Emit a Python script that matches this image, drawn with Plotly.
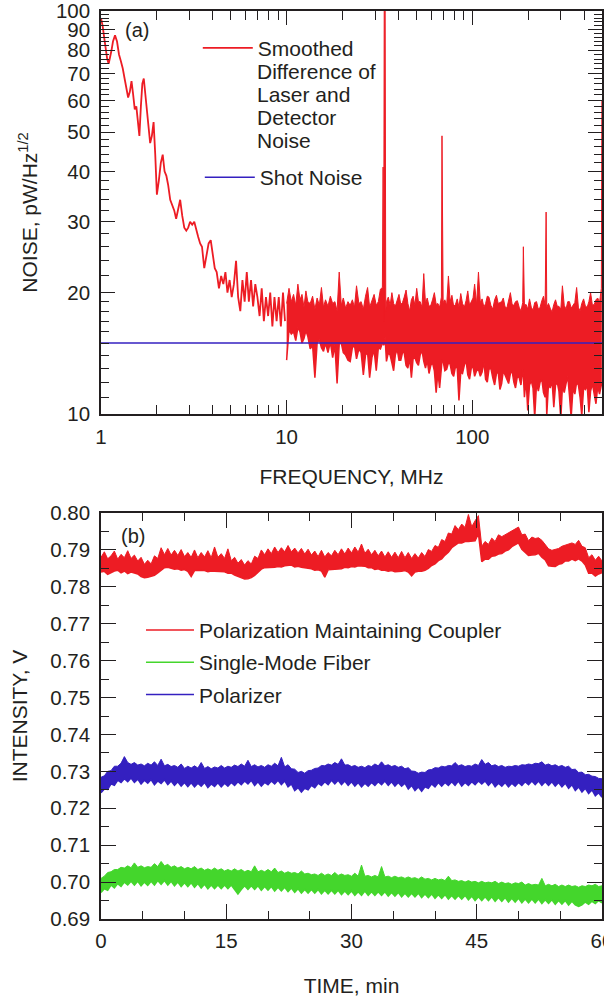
import math
import plotly.graph_objects as go

# -----------------------------
# (a) noise spectrum
# -----------------------------
# 1-10 MHz: a single line
FREQ_LOW = [1.00, 1.02, 1.04, 1.06, 1.08, 1.10, 1.12, 1.14, 1.16, 1.19,
            1.22, 1.25, 1.28, 1.31, 1.34, 1.37, 1.40, 1.43, 1.46, 1.49,
            1.52, 1.55, 1.58, 1.61, 1.64, 1.67, 1.70, 1.73, 1.76, 1.80,
            1.84, 1.88, 1.92, 1.96, 2.00, 2.05, 2.10, 2.15, 2.20, 2.25,
            2.30, 2.36, 2.42, 2.48, 2.54, 2.60, 2.67, 2.74, 2.81, 2.88,
            2.95, 3.02, 3.10, 3.18, 3.26, 3.34, 3.42, 3.50, 3.60, 3.70,
            3.80, 3.90, 4.00, 4.10, 4.20, 4.32, 4.44, 4.56, 4.68, 4.80,
            4.93, 5.06, 5.20, 5.34, 5.48, 5.63, 5.78, 5.94, 6.10, 6.26,
            6.43, 6.60, 6.78, 6.96, 7.15, 7.34, 7.54, 7.74, 7.95, 8.16,
            8.38, 8.60, 8.83, 9.07, 9.31, 9.56, 9.80]
NOISE_LOW = [96, 92, 86, 80, 76, 74, 78, 80, 84, 87,
             84, 78, 75, 72, 68, 64, 61, 63, 67, 62,
             57, 58, 52, 49, 58, 66, 68, 63, 58, 52,
             47, 49, 53, 44, 35, 38, 42, 44, 40, 39,
             37, 34, 33, 32, 30.5, 32, 34, 31, 29, 28.5,
             29, 30, 29.5, 30, 28.5, 27.5, 26.5, 26, 23, 25,
             26.5, 27, 25, 23, 22.5, 20.5, 22, 21, 22.5, 20,
             21.5, 19.5, 21, 24, 19.5, 18, 21.5, 19, 22.5, 19,
             21.5, 18.5, 21, 19.5, 17.5, 20.5, 17, 19.5, 17.5, 20,
             16.5, 19.5, 17, 19.5, 16.5, 20, 17]

# 10-500 MHz: dense noise band, upper and lower envelope
FREQ_BAND = [10.0, 10.3, 10.6, 10.9, 11.2, 11.5, 11.8, 12.1, 12.4, 12.7,
             13.0, 13.4, 13.8, 14.2, 14.6, 15.0, 15.4, 15.8, 16.2, 16.7,
             17.2, 17.7, 18.2, 18.7, 19.2, 19.7, 20.2, 20.8, 21.4, 22.0,
             22.6, 23.2, 23.8, 24.5, 25.2, 25.9, 26.6, 27.3, 28.0, 28.8,
             29.6, 30.4, 31.2, 32.0, 32.8,
             33.1, 33.3, 33.6, 33.9, 34.2,
             34.5, 35.3, 36.1, 36.9, 37.7, 38.5, 39.4, 40.3, 41.2, 42.1,
             43.0, 44.0, 45.0, 46.0, 47.0, 48.0, 49.1, 50.2, 51.3, 52.4,
             53.6, 54.8, 56.0, 57.2, 58.5, 59.8, 61.1, 62.5, 63.9, 65.3,
             66.7, 68.2, 68.7, 69.7, 71.2, 72.8, 74.4, 76.0, 77.7, 79.4,
             81.2, 83.0, 84.8, 86.7, 88.6, 90.6, 92.6, 94.6, 96.7, 98.8,
             101, 103, 105.5, 108, 110.5, 113, 115.5, 118, 120.5, 123,
             126, 129, 132, 135, 138, 141, 144, 147, 150, 153.5,
             157, 160.5, 164, 167.5, 171, 175, 179, 183, 187, 188.5,
             191, 195, 199, 203.5, 208, 212.5, 217, 222, 227, 232,
             237, 242, 247, 250, 252, 257.5, 263, 269, 275, 281,
             287, 293, 300, 306, 313, 320, 327, 334, 341, 349,
             357, 365, 373, 381, 389, 398, 407, 416, 425, 434,
             444, 454, 464, 474, 485, 496, 499]
NOISE_BAND_HI = [18.8, 20.5, 19.0, 19.8, 18.6, 21.0, 19.2, 19.8, 18.4, 20.2,
                 19.0, 18.8, 19.6, 18.2, 19.4, 18.6, 20.6, 18.4, 19.2, 18.5,
                 19.6, 18.8, 19.0, 18.0, 22.5, 18.6, 19.4, 18.3, 19.0, 18.6,
                 19.2, 18.4, 20.8, 18.8, 19.0, 18.2, 19.6, 20.6, 18.4, 19.0,
                 19.8, 18.6, 19.0, 20.4, 20.6,
                 41.0, 17.0, 140, 140, 18.0,
                 19.0, 19.5, 18.6, 20.0, 18.8, 18.5, 19.3, 19.8, 18.7, 18.9,
                 19.5, 20.3, 18.8, 18.0, 19.2, 19.6, 18.6, 20.5, 19.0, 19.0,
                 18.4, 22.3, 18.8, 19.4, 18.5, 18.6, 19.2, 20.0, 18.7, 18.8,
                 18.4, 19.5, 49.0, 18.9, 19.2, 18.6, 22.0, 19.0, 19.7, 18.5,
                 18.7, 19.3, 18.4, 19.9, 18.8, 18.4, 19.1, 20.2, 18.6, 19.0,
                 19.4, 21.0, 18.7, 22.5, 18.9, 19.3, 18.4, 18.8, 19.6, 19.5,
                 18.6, 18.2, 19.2, 19.7, 18.8, 18.9, 19.0, 19.4, 18.5, 18.3,
                 19.3, 20.0, 18.7, 18.6, 19.0, 19.1, 18.4, 18.0, 18.9, 26.0,
                 18.6, 18.7, 18.2, 19.3, 18.4, 18.1, 18.9, 19.0, 18.2, 18.4,
                 19.1, 19.6, 18.6, 31.7, 18.4, 18.8, 18.3, 17.9, 18.7, 19.2,
                 18.5, 18.5, 18.2, 20.8, 18.6, 18.2, 19.0, 19.0, 18.3, 18.6,
                 18.9, 20.6, 18.4, 18.0, 18.8, 19.3, 18.5, 18.4, 19.0, 20.0,
                 18.6, 18.7, 19.2, 19.4, 18.9, 20.5, 60.0]
NOISE_BAND_LO = [13.6, 16.2, 15.8, 16.0, 15.2, 16.4, 16.0, 15.0, 15.4, 16.1,
                 15.6, 14.5, 14.8, 12.3, 15.0, 15.3, 14.6, 14.3, 15.0, 14.2,
                 15.1, 13.8, 14.8, 11.9, 14.9, 15.0, 14.2, 14.0, 13.6, 13.5,
                 14.6, 14.8, 13.7, 14.5, 14.2, 12.5, 14.0, 14.2, 12.3, 13.8,
                 14.4, 12.8, 14.6, 14.5, 15.0,
                 15.2, 14.8, 15.0, 15.5, 13.8,
                 13.5, 14.2, 14.0, 13.4, 12.8, 14.0, 14.5, 13.6, 13.6, 14.2,
                 14.2, 13.2, 13.0, 13.8, 12.3, 13.7, 13.8, 13.4, 13.2, 14.0,
                 14.4, 13.5, 13.0, 13.6, 12.6, 13.2, 13.4, 12.8, 11.3, 12.7,
                 11.6, 13.0, 13.6, 13.5, 12.8, 12.9, 13.4, 13.3, 12.6, 12.4,
                 13.1, 13.0, 10.8, 12.7, 12.6, 13.2, 13.6, 12.5, 12.2, 13.0,
                 13.1, 12.4, 12.8, 12.9, 12.4, 12.7, 13.5, 12.2, 12.0, 12.9,
                 13.0, 12.3, 11.8, 12.6, 12.7, 11.5, 11.9, 12.8, 12.5, 12.1,
                 11.9, 12.6, 12.8, 12.0, 11.6, 12.4, 12.3, 11.8, 12.9, 12.5,
                 11.0, 12.2, 10.2, 11.8, 12.1, 11.6, 9.8, 11.9, 11.4, 12.0,
                 12.2, 11.3, 11.0, 11.8, 9.9, 11.9, 11.6, 12.1, 10.4, 11.8,
                 12.0, 11.4, 9.7, 11.7, 11.3, 11.9, 12.4, 11.1, 9.8, 11.6,
                 11.2, 12.0, 11.8, 11.0, 9.9, 11.6, 11.5, 11.8, 10.1, 11.4,
                 11.9, 11.2, 10.6, 11.7, 11.2, 11.8, 12.0]

SHOT_FREQ = [1, 500]
SHOT_LEVEL = [15, 15]

# -----------------------------
# (b) intensity vs time, upper / lower edge of each noisy trace
# -----------------------------
TIME_MIN = [0.0, 0.4, 0.8, 1.2, 1.6, 2.0, 2.4, 2.8, 3.2, 3.6,
            4.0, 4.4, 4.8, 5.2, 5.6, 6.0, 6.4, 6.8, 7.2, 7.6,
            8.0, 8.4, 8.8, 9.2, 9.6, 10.0, 10.4, 10.8, 11.2, 11.6,
            12.0, 12.4, 12.8, 13.2, 13.6, 14.0, 14.4, 14.8, 15.2, 15.6,
            16.0, 16.4, 16.8, 17.2, 17.6, 18.0, 18.4, 18.8, 19.2, 19.6,
            20.0, 20.4, 20.8, 21.2, 21.6, 22.0, 22.4, 22.8, 23.2, 23.6,
            24.0, 24.4, 24.8, 25.2, 25.6, 26.0, 26.4, 26.8, 27.2, 27.6,
            28.0, 28.4, 28.8, 29.2, 29.6, 30.0, 30.4, 30.8, 31.2, 31.6,
            32.0, 32.4, 32.8, 33.2, 33.6, 34.0, 34.4, 34.8, 35.2, 35.6,
            36.0, 36.4, 36.8, 37.2, 37.6, 38.0, 38.4, 38.8, 39.2, 39.6,
            40.0, 40.4, 40.8, 41.2, 41.6, 42.0, 42.4, 42.8, 43.2, 43.6,
            44.0, 44.4, 44.8, 45.2, 45.6, 46.0, 46.4, 46.8, 47.2, 47.6,
            48.0, 48.4, 48.8, 49.2, 49.6, 50.0, 50.4, 50.8, 51.2, 51.6,
            52.0, 52.4, 52.8, 53.2, 53.6, 54.0, 54.4, 54.8, 55.2, 55.6,
            56.0, 56.4, 56.8, 57.2, 57.6, 58.0, 58.4, 58.8, 59.2, 59.6,
            60.0]

PMC_HI = [.7880, .7895, .7876, .7884, .7897, .7875, .7888, .7879, .7898, .7877,
          .7886, .7870, .7880, .7861, .7872, .7862, .7884, .7877, .7906, .7887,
          .7904, .7886, .7899, .7885, .7901, .7882, .7893, .7880, .7900, .7879,
          .7893, .7881, .7898, .7879, .7908, .7880, .7890, .7877, .7903, .7871,
          .7880, .7864, .7874, .7859, .7871, .7862, .7883, .7877, .7900, .7887,
          .7903, .7890, .7908, .7893, .7906, .7895, .7912, .7895, .7905, .7892,
          .7904, .7889, .7902, .7886, .7897, .7882, .7899, .7881, .7893, .7884,
          .7899, .7887, .7903, .7889, .7905, .7892, .7908, .7894, .7916, .7891,
          .7902, .7887, .7899, .7884, .7897, .7881, .7895, .7880, .7894, .7879,
          .7896, .7879, .7893, .7877, .7890, .7878, .7893, .7882, .7901, .7896,
          .7912, .7907, .7928, .7923, .7946, .7943, .7966, .7955, .7970, .7961,
          .7996, .7963, .7979, .7993, .7910, .7923, .7915, .7932, .7923, .7941,
          .7936, .7941, .7947, .7951, .7958, .7962, .7941, .7943, .7925, .7935,
          .7931, .7933, .7926, .7916, .7903, .7899, .7901, .7904, .7910, .7913,
          .7917, .7919, .7915, .7926, .7910, .7906, .7879, .7887, .7872, .7883,
          .7870]
PMC_LO = [.7840, .7842, .7834, .7839, .7843, .7845, .7838, .7843, .7836, .7840,
          .7838, .7835, .7828, .7825, .7826, .7828, .7831, .7838, .7846, .7852,
          .7853, .7851, .7848, .7849, .7845, .7847, .7842, .7828, .7844, .7845,
          .7845, .7844, .7841, .7843, .7842, .7842, .7840, .7841, .7837, .7837,
          .7832, .7829, .7825, .7821, .7822, .7825, .7831, .7839, .7848, .7852,
          .7852, .7853, .7853, .7855, .7854, .7857, .7857, .7859, .7854, .7856,
          .7853, .7852, .7849, .7849, .7845, .7846, .7843, .7826, .7846, .7847,
          .7849, .7850, .7849, .7853, .7852, .7855, .7854, .7857, .7856, .7856,
          .7852, .7852, .7847, .7849, .7845, .7845, .7842, .7844, .7841, .7841,
          .7842, .7844, .7840, .7830, .7840, .7842, .7842, .7845, .7850, .7858,
          .7862, .7871, .7876, .7886, .7894, .7906, .7912, .7919, .7919, .7923,
          .7923, .7924, .7925, .7944, .7868, .7875, .7875, .7883, .7884, .7889,
          .7890, .7897, .7900, .7909, .7915, .7919, .7902, .7894, .7885, .7886,
          .7887, .7891, .7880, .7873, .7857, .7856, .7855, .7861, .7863, .7870,
          .7870, .7875, .7871, .7876, .7870, .7859, .7837, .7837, .7829, .7835,
          .7838]

SMF_HI = [.7010, .7016, .7026, .7028, .7034, .7034, .7040, .7038, .7044, .7039,
          .7052, .7040, .7044, .7039, .7042, .7040, .7050, .7042, .7056, .7044,
          .7048, .7040, .7044, .7038, .7042, .7036, .7040, .7036, .7042, .7034,
          .7038, .7032, .7036, .7032, .7038, .7032, .7036, .7030, .7034, .7030,
          .7036, .7030, .7034, .7028, .7032, .7028, .7044, .7028, .7032, .7028,
          .7034, .7028, .7038, .7026, .7030, .7024, .7028, .7024, .7026, .7022,
          .7030, .7022, .7024, .7020, .7022, .7018, .7024, .7018, .7022, .7018,
          .7026, .7018, .7022, .7018, .7020, .7016, .7024, .7016, .7046, .7016,
          .7018, .7014, .7018, .7014, .7042, .7014, .7016, .7012, .7016, .7012,
          .7014, .7010, .7014, .7010, .7012, .7008, .7014, .7008, .7010, .7006,
          .7010, .7006, .7008, .7004, .7016, .7004, .7006, .7002, .7004, .7000,
          .7004, .7000, .7002, .6998, .7002, .6998, .7000, .6998, .7002, .6996,
          .7000, .6996, .6998, .6994, .6998, .6996, .7000, .6992, .6996, .6992,
          .6994, .6992, .7010, .6990, .6994, .6990, .6994, .6988, .6992, .6988,
          .6992, .6988, .6990, .6986, .6990, .6988, .6992, .6990, .6994, .6988,
          .6990]
SMF_LO = [.6972, .6982, .6978, .6992, .6984, .6996, .6988, .7000, .6992, .7002,
          .6992, .7002, .6990, .7000, .6991, .7002, .6992, .7004, .6994, .7004,
          .6992, .7002, .6990, .7000, .6988, .6998, .6988, .6998, .6986, .6996,
          .6984, .6994, .6982, .6992, .6982, .6992, .6982, .6992, .6982, .6992,
          .6980, .6968, .6980, .6990, .6980, .6990, .6980, .6990, .6978, .6988,
          .6978, .6988, .6976, .6986, .6976, .6986, .6974, .6984, .6972, .6982,
          .6970, .6980, .6970, .6980, .6970, .6980, .6968, .6978, .6968, .6978,
          .6968, .6978, .6966, .6976, .6966, .6976, .6964, .6974, .6964, .6976,
          .6964, .6974, .6964, .6974, .6964, .6974, .6962, .6972, .6962, .6972,
          .6960, .6970, .6960, .6970, .6960, .6970, .6958, .6968, .6958, .6968,
          .6956, .6966, .6956, .6966, .6954, .6964, .6954, .6964, .6954, .6964,
          .6952, .6962, .6950, .6960, .6950, .6960, .6950, .6960, .6948, .6958,
          .6948, .6958, .6946, .6956, .6946, .6956, .6944, .6954, .6944, .6954,
          .6944, .6954, .6942, .6952, .6942, .6952, .6940, .6950, .6940, .6950,
          .6938, .6948, .6938, .6934, .6938, .6946, .6940, .6948, .6942, .6950,
          .6944]

POL_HI = [.7284, .7288, .7300, .7302, .7314, .7314, .7322, .7340, .7324, .7319,
          .7324, .7317, .7320, .7315, .7322, .7317, .7326, .7316, .7333, .7315,
          .7319, .7313, .7316, .7311, .7320, .7308, .7314, .7309, .7315, .7309,
          .7324, .7308, .7313, .7307, .7312, .7309, .7316, .7309, .7314, .7311,
          .7317, .7313, .7320, .7314, .7330, .7313, .7318, .7312, .7316, .7311,
          .7318, .7314, .7322, .7315, .7338, .7312, .7318, .7307, .7306, .7297,
          .7300, .7295, .7302, .7303, .7308, .7309, .7316, .7315, .7320, .7317,
          .7324, .7319, .7334, .7317, .7318, .7313, .7316, .7311, .7314, .7310,
          .7316, .7313, .7320, .7315, .7326, .7315, .7318, .7313, .7316, .7311,
          .7314, .7307, .7310, .7301, .7300, .7295, .7298, .7297, .7304, .7305,
          .7310, .7309, .7314, .7312, .7316, .7315, .7324, .7315, .7318, .7313,
          .7316, .7314, .7320, .7316, .7332, .7319, .7324, .7315, .7318, .7313,
          .7316, .7311, .7314, .7313, .7316, .7314, .7318, .7317, .7320, .7318,
          .7322, .7321, .7326, .7317, .7320, .7315, .7318, .7313, .7316, .7311,
          .7314, .7305, .7306, .7297, .7298, .7291, .7292, .7287, .7286, .7281,
          .7280]
POL_LO = [.7242, .7252, .7251, .7266, .7262, .7276, .7270, .7280, .7272, .7282,
          .7270, .7279, .7266, .7276, .7268, .7278, .7264, .7274, .7267, .7277,
          .7264, .7274, .7262, .7272, .7260, .7270, .7259, .7269, .7258, .7268,
          .7260, .7270, .7256, .7266, .7259, .7269, .7258, .7268, .7260, .7270,
          .7262, .7272, .7264, .7274, .7266, .7276, .7262, .7272, .7260, .7270,
          .7264, .7274, .7266, .7276, .7264, .7274, .7258, .7266, .7248, .7256,
          .7244, .7254, .7250, .7262, .7256, .7268, .7262, .7272, .7264, .7276,
          .7266, .7276, .7264, .7274, .7262, .7272, .7260, .7270, .7258, .7268,
          .7260, .7270, .7262, .7272, .7264, .7274, .7262, .7272, .7260, .7270,
          .7260, .7268, .7252, .7262, .7248, .7258, .7246, .7258, .7254, .7266,
          .7258, .7270, .7260, .7270, .7262, .7272, .7262, .7274, .7260, .7270,
          .7262, .7272, .7264, .7274, .7266, .7274, .7262, .7272, .7258, .7268,
          .7260, .7270, .7258, .7268, .7260, .7270, .7262, .7272, .7264, .7274,
          .7264, .7274, .7262, .7272, .7262, .7272, .7260, .7270, .7258, .7268,
          .7254, .7264, .7248, .7258, .7244, .7254, .7240, .7250, .7234, .7242,
          .7230]

# tick labels
FREQ_TICKS = [1, 10, 100]
FREQ_MINOR = [2, 3, 4, 5, 6, 7, 8, 9, 20, 30, 40, 50, 60, 70, 80, 90, 200, 300, 400]
NOISE_TICKS = [10, 20, 30, 40, 50, 60, 70, 80, 90, 100]
NOISE_MINOR = [11, 12, 13, 14, 15, 16, 17, 18, 19, 22, 24, 26, 28, 32, 34, 36, 38,
               42, 44, 46, 48, 52, 54, 56, 58, 62, 64, 66, 68, 72, 74, 76, 78,
               82, 84, 86, 88, 92, 94, 96, 98]
TIME_TICKS = [0, 15, 30, 45, 60]
VOLT_TICKS = [0.69, 0.70, 0.71, 0.72, 0.73, 0.74, 0.75, 0.76, 0.77, 0.78, 0.79, 0.80]

LEGEND_A = "Smoothed"
LEGEND_A_MORE = ["Difference of", "Laser and", "Detector", "Noise"]

RED = "#ED1C24"
BLUE = "#3420C0"
GREEN = "#44D62C"
INK = "#231F20"
FONT = "Liberation Sans, Arial, Helvetica, sans-serif"


def axis_style(major_len, minor_len):
    return dict(
        showline=True, linecolor=INK, linewidth=1.5, mirror="ticks",
        ticks="inside", ticklen=major_len, tickwidth=1.3, tickcolor=INK,
        showgrid=False, zeroline=False, automargin=False,
        ticklabeloverflow="allow",
        tickfont=dict(size=20.5, color=INK, family=FONT),
        minor=dict(ticks="inside", ticklen=minor_len, tickwidth=1.3,
                   tickcolor=INK, showgrid=False),
    )


def band(fig, x, lo, hi, color, xa, ya, name=None, legend=None, group=None):
    # lower edge (carries the legend entry), then upper edge filled down to it
    fig.add_trace(go.Scatter(
        x=x, y=lo, mode="lines", line=dict(color=color, width=1.5),
        name=name, showlegend=name is not None, legend=legend, legendgroup=group,
        xaxis=xa, yaxis=ya,
    ))
    fig.add_trace(go.Scatter(
        x=x, y=hi, mode="lines", line=dict(color=color, width=1),
        fill="tonexty", fillcolor=color, showlegend=False, legendgroup=group,
        xaxis=xa, yaxis=ya,
    ))


def main():
    fig = go.Figure()

    # (a)
    fig.add_trace(go.Scatter(
        x=FREQ_LOW, y=NOISE_LOW, mode="lines", line=dict(color=RED, width=1.8),
        name=LEGEND_A, xaxis="x", yaxis="y", legend="legend",
    ))
    band(fig, FREQ_BAND, NOISE_BAND_LO, NOISE_BAND_HI, RED, "x", "y")
    fig.add_trace(go.Scatter(
        x=SHOT_FREQ, y=SHOT_LEVEL, mode="lines",
        line=dict(color=BLUE, width=1.6), name="Shot Noise",
        xaxis="x", yaxis="y", legend="legend3",
    ))

    # (b)
    band(fig, TIME_MIN, PMC_LO, PMC_HI, RED, "x2", "y2",
         "Polarization Maintaining Coupler", "legend2", "b1")
    band(fig, TIME_MIN, SMF_LO, SMF_HI, GREEN, "x2", "y2",
         "Single-Mode Fiber", "legend2", "b2")
    band(fig, TIME_MIN, POL_LO, POL_HI, BLUE, "x2", "y2",
         "Polarizer", "legend2", "b3")

    title_font = dict(size=21, color=INK, family=FONT)

    x1 = axis_style(14, 9)
    x1.update(type="log", range=[0, math.log10(500)], domain=[0, 1], anchor="y",
              tickvals=FREQ_TICKS, ticktext=[str(v) for v in FREQ_TICKS],
              ticklabelstandoff=4,
              title=dict(text="FREQUENCY, MHz", standoff=22, font=title_font))
    x1["minor"]["tickvals"] = FREQ_MINOR

    y1 = axis_style(14, 8)
    y1.update(type="log", range=[1, 2], domain=[0.5562, 1], anchor="x",
              tickvals=NOISE_TICKS, ticktext=[str(v) for v in NOISE_TICKS],
              ticklabelstandoff=5,
              title=dict(text="NOISE, pW/Hz<sup>1/2</sup>", standoff=13, font=title_font))
    y1["minor"]["tickvals"] = NOISE_MINOR

    x2 = axis_style(15, 8)
    x2.update(range=[0, 60], domain=[0, 1], anchor="y2", tickvals=TIME_TICKS,
              ticklabelstandoff=3,
              title=dict(text="TIME, min", standoff=27, font=title_font))
    x2["minor"]["dtick"] = 5

    y2 = axis_style(15, 8)
    y2.update(range=[0.69, 0.80], domain=[0, 0.4471], anchor="x2",
              tickvals=VOLT_TICKS, tickformat=".2f", ticklabelstandoff=5,
              title=dict(text="INTENSITY, V", standoff=17, font=title_font))
    y2["minor"]["dtick"] = 0.005

    legend_font = dict(size=21, color=INK, family=FONT)
    annotations = [
        dict(text="(a)", xref="x domain", yref="y domain", x=0.0709, y=0.9529,
             xanchor="center", yanchor="middle", showarrow=False,
             font=dict(size=20, color=INK, family=FONT)),
        dict(text="(b)", xref="x2 domain", yref="y2 domain", x=0.064, y=0.9433,
             xanchor="center", yanchor="middle", showarrow=False,
             font=dict(size=20, color=INK, family=FONT)),
    ]
    # remaining lines of the wrapped legend label, at the legend's line pitch
    for line, ypos in zip(LEGEND_A_MORE, [0.8494, 0.7923, 0.7352, 0.6782]):
        annotations.append(dict(
            text=line, xref="x domain", yref="y domain", x=0.3064, y=ypos,
            xanchor="left", yanchor="middle", showarrow=False, font=legend_font))

    fig.update_layout(
        width=604, height=997,
        margin=dict(l=101, r=2, t=11, b=78),
        paper_bgcolor="white", plot_bgcolor="white",
        font=dict(family=FONT, size=20, color=INK),
        xaxis=x1, yaxis=y1, xaxis2=x2, yaxis2=y2,
        legend=dict(x=0.1932, y=0.9816, xanchor="left", yanchor="top",
                    bgcolor="rgba(0,0,0,0)", itemwidth=50, font=legend_font),
        legend3=dict(x=0.1972, y=0.8391, xanchor="left", yanchor="top",
                     bgcolor="rgba(0,0,0,0)", itemwidth=50, font=legend_font),
        legend2=dict(x=0.0798, y=0.3406, xanchor="left", yanchor="top",
                     bgcolor="rgba(0,0,0,0)", itemwidth=48, tracegroupgap=2,
                     font=legend_font),
        annotations=annotations,
        showlegend=True,
    )

    fig.write_html("out.html", config={"displayModeBar": False},
                   post_script="document.body.style.margin='0px';")


if __name__ == "__main__":
    main()
